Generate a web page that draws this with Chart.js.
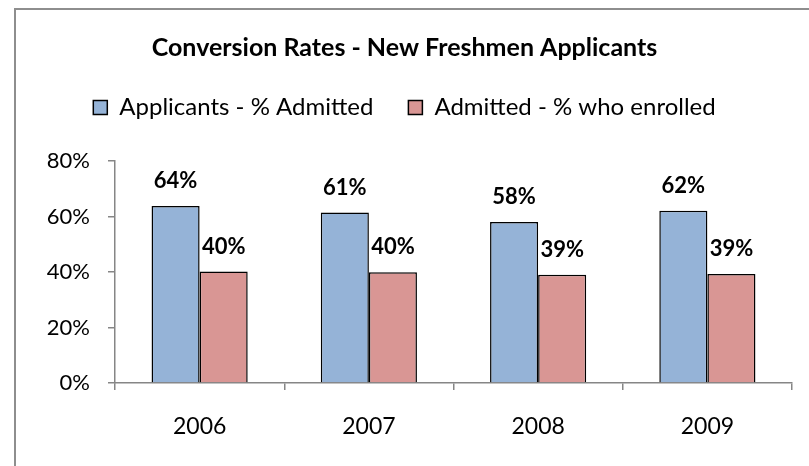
<!DOCTYPE html>
<html>
<head>
<meta charset="utf-8">
<script src="https://cdn.jsdelivr.net/npm/chart.js@4"></script>
<style>
  html, body { margin: 0; padding: 0; background: #fff; }
  #wrap { position: relative; width: 809px; height: 466px; overflow: hidden; }
  #frame {
    position: absolute; left: 14px; top: 8px; right: -4px; bottom: -4px;
    border-left: 2px solid #8e8e8e; border-top: 2px solid #8e8e8e;
    pointer-events: none;
  }
</style>
</head>
<body>
<div id="wrap">
  <canvas id="chart" width="809" height="466"></canvas>
  <div id="frame"></div>
</div>
<script>
// ---------- DATOS ----------
const years = ['2006', '2007', '2008', '2009'];
const pctAdmitted = [63.8, 61.4, 58.0, 62.1];
const pctEnrolled = [40.2, 39.9, 39.0, 39.3];
const yTicks = [0, 20, 40, 60, 80];

const FONT = 'Lato, "Open Sans", sans-serif';
const AXIS_GRAY = '#868686';

// ---------- ETIQUETAS SOBRE LAS BARRAS ----------
const barLabels = {
    id: 'barLabels',
    afterDatasetsDraw(chart) {
        const ctx = chart.ctx;
        ctx.save();
        ctx.font = 'bold 22px ' + FONT;
        ctx.fillStyle = '#000';
        ctx.textAlign = 'center';
        ctx.textBaseline = 'middle';
        chart.data.datasets.forEach((ds, i) => {
            chart.getDatasetMeta(i).data.forEach((bar, j) => {
                ctx.fillText(Math.round(ds.data[j]) + '%', bar.x, bar.y - 25);
            });
        });
        ctx.restore();
    }
};

// ---------- GRÁFICA ----------
new Chart(document.getElementById('chart'), {
    type: 'bar',
    data: {
        labels: years,
        datasets: [{
            label: 'Applicants - % Admitted',
            data: pctAdmitted,
            backgroundColor: '#95b3d7',
            borderColor: '#000',
            borderWidth: 1.5
        }, {
            label: 'Admitted - % who enrolled',
            data: pctEnrolled,
            backgroundColor: '#d99694',
            borderColor: '#000',
            borderWidth: 1.5
        }]
    },
    options: {
        responsive: false,
        animation: false,
        layout: { padding: 0 },
        datasets: { bar: { categoryPercentage: 0.568, barPercentage: 1 } },
        scales: {
            y: {
                min: 0,
                max: 80,
                afterBuildTicks: s => { s.ticks = yTicks.map(v => ({ value: v })); },
                afterFit: s => { s.width = 115; },
                grid: { drawOnChartArea: false, tickLength: 7, color: AXIS_GRAY, lineWidth: 1.5 },
                border: { color: AXIS_GRAY, width: 1.5 },
                ticks: {
                    padding: 18,
                    color: '#000',
                    font: { family: FONT, size: 22 },
                    callback: v => v + '%'
                }
            },
            // margen derecho (sin marcas)
            yRight: {
                type: 'linear',
                position: 'right',
                min: 0,
                max: 80,
                afterFit: s => { s.width = 17; },
                grid: { display: false },
                border: { display: false },
                ticks: { display: false }
            },
            x: {
                offset: true,
                afterFit: s => { s.height = 83; },
                grid: { offset: true, drawOnChartArea: false, tickLength: 7, color: AXIS_GRAY, lineWidth: 1.5 },
                border: { color: AXIS_GRAY, width: 1.5 },
                ticks: {
                    padding: 23,
                    color: '#000',
                    font: { family: FONT, size: 23 }
                }
            },
            // espacio entre leyenda y gráfica
            xTop: {
                type: 'category',
                position: 'top',
                labels: years,
                afterFit: s => { s.height = 31.5; },
                grid: { display: false },
                border: { display: false },
                ticks: { display: false }
            }
        },
        plugins: {
            title: {
                display: true,
                text: 'Conversion Rates - New Freshmen Applicants',
                color: '#000',
                font: { family: FONT, size: 25, weight: 'bold', lineHeight: 1 },
                padding: { top: 35.5, bottom: 0 }
            },
            legend: {
                display: true,
                labels: {
                    color: '#000',
                    font: { family: FONT, size: 24 },
                    boxWidth: 14,
                    boxHeight: 14,
                    padding: 35
                }
            },
            tooltip: { enabled: false }
        }
    },
    plugins: [barLabels]
});
</script>
</body>
</html>
